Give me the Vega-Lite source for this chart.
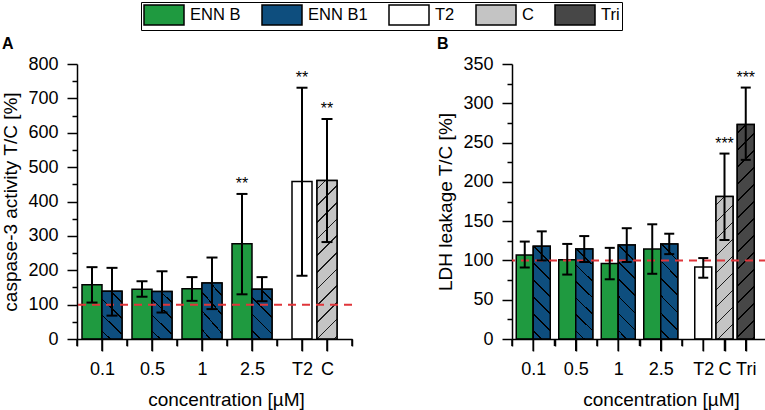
{
  "$schema": "https://vega.github.io/schema/vega-lite/v6.json",
  "background": "white",
  "padding": {"left": 1, "top": 1, "right": 2, "bottom": 2},
  "datasets": {
    "values": [
      {"panel": "A", "series": "ENN B", "conc": "0.1", "mean": 158, "lo": 106, "hi": 209, "sig": ""},
      {"panel": "A", "series": "ENN B1", "conc": "0.1", "mean": 139, "lo": 68, "hi": 207, "sig": ""},
      {"panel": "A", "series": "ENN B", "conc": "0.5", "mean": 145, "lo": 123, "hi": 168, "sig": ""},
      {"panel": "A", "series": "ENN B1", "conc": "0.5", "mean": 138, "lo": 77, "hi": 197, "sig": ""},
      {"panel": "A", "series": "ENN B", "conc": "1", "mean": 146, "lo": 111, "hi": 180, "sig": ""},
      {"panel": "A", "series": "ENN B1", "conc": "1", "mean": 163, "lo": 87, "hi": 237, "sig": ""},
      {"panel": "A", "series": "ENN B", "conc": "2.5", "mean": 277, "lo": 130, "hi": 422, "sig": "**"},
      {"panel": "A", "series": "ENN B1", "conc": "2.5", "mean": 145, "lo": 110, "hi": 180, "sig": ""},
      {"panel": "A", "series": "T2", "conc": "T2", "mean": 458, "lo": 184, "hi": 731, "sig": "**"},
      {"panel": "A", "series": "C", "conc": "C", "mean": 461, "lo": 282, "hi": 640, "sig": "**"},
      {"panel": "B", "series": "ENN B", "conc": "0.1", "mean": 107, "lo": 91, "hi": 124, "sig": ""},
      {"panel": "B", "series": "ENN B1", "conc": "0.1", "mean": 118, "lo": 100, "hi": 137, "sig": ""},
      {"panel": "B", "series": "ENN B", "conc": "0.5", "mean": 101, "lo": 82, "hi": 121, "sig": ""},
      {"panel": "B", "series": "ENN B1", "conc": "0.5", "mean": 114.5, "lo": 98, "hi": 131, "sig": ""},
      {"panel": "B", "series": "ENN B", "conc": "1", "mean": 96, "lo": 76, "hi": 116, "sig": ""},
      {"panel": "B", "series": "ENN B1", "conc": "1", "mean": 119.5, "lo": 98, "hi": 141, "sig": ""},
      {"panel": "B", "series": "ENN B", "conc": "2.5", "mean": 114.5, "lo": 83, "hi": 146, "sig": ""},
      {"panel": "B", "series": "ENN B1", "conc": "2.5", "mean": 121, "lo": 108, "hi": 134, "sig": ""},
      {"panel": "B", "series": "T2", "conc": "T2", "mean": 91.5, "lo": 78, "hi": 103, "sig": ""},
      {"panel": "B", "series": "C", "conc": "C", "mean": 181.5, "lo": 126, "hi": 236, "sig": "***"},
      {"panel": "B", "series": "Tri", "conc": "Tri", "mean": 273, "lo": 228, "hi": 320, "sig": "***"}
    ]
  },
  "spacing": 160,
  "bounds": "flush",
  "resolve": {"scale": {"x": "independent", "y": "independent"}},
  "hconcat": [
    {
      "width": 275,
      "height": 275,
      "title": {"text": "A", "anchor": "start", "frame": "bounds", "fontSize": 16, "fontWeight": "bold", "color": "black", "baseline": "alphabetic", "offset": 6, "dy": 16},
      "data": {"name": "values"},
      "transform": [{"filter": "datum.panel == 'A'"}],
      "resolve": {"axis": {"x": "independent", "y": "independent"}},
      "layer": [
        {
          "mark": {"type": "bar", "width": 20, "xOffset": {"expr": "datum.series == 'ENN B' ? -10 : datum.series == 'ENN B1' ? 10 : 0"}, "stroke": "black", "strokeWidth": 1.5, "opacity": 1},
          "encoding": {
            "x": {"field": "conc", "type": "nominal", "title": "concentration [µM]",
              "scale": {"type": "point", "padding": 0, "domain": ["_0", "0.1", "_2", "0.5", "_4", "1", "_6", "2.5", "_8", "T2", "C", "_11"]},
              "axis": {"values": ["0.1", "0.5", "1", "2.5", "T2", "C"], "orient": "bottom", "labelAngle": 0, "ticks": true, "tickSize": 12, "tickColor": "black", "tickOpacity": 1, "tickWidth": 1.5, "tickOffset": 0, "tickBand": "center", "zindex": 1, "labelPadding": 9, "titleX": 149, "titleY": 66, "titleBaseline": "alphabetic", "titleAlign": "center"}},
            "y": {"field": "mean", "type": "quantitative", "title": "caspase-3 activity T/C [%]", "stack": null,
              "scale": {"domain": [0, 800], "nice": false},
              "axis": {"values": [0, 100, 200, 300, 400, 500, 600, 700, 800], "orient": "left", "tickSize": 10, "labelPadding": 9, "titlePadding": 7}},
            "color": {"field": "series", "type": "nominal",
              "scale": {"domain": ["ENN B", "ENN B1", "T2", "C", "Tri"], "range": ["#1f9a40", "#0e4e7e", "#ffffff", "#c4c4c4", "#474747"]},
              "legend": {"title": null, "orient": "none", "legendX": 64, "legendY": -62, "direction": "horizontal", "strokeColor": "black", "padding": 2, "symbolType": "M-1,-1h4v2h-4z", "symbolSize": 400, "symbolStrokeColor": "black", "symbolStrokeWidth": 1.5, "symbolOpacity": 1, "labelFontSize": 16.5, "labelColor": "black", "labelOffset": 25, "columnPadding": 18}}
          }
        },
        {
          "transform": [{"filter": "datum.series == 'ENN B1' || datum.series == 'C'"}],
          "mark": {"type": "bar", "width": 20, "xOffset": {"expr": "datum.series == 'ENN B1' ? 10 : 0"}, "stroke": "black", "strokeWidth": 1.5, "opacity": 1},
          "encoding": {
            "x": {"field": "conc", "type": "nominal", "axis": null},
            "y": {"field": "mean", "type": "quantitative", "stack": null, "axis": null},
            "fill": {
              "condition": [
                {"test": "datum.series == 'C'", "value": {"gradient": "linear", "x1": 0, "y1": 0, "x2": 0.1399, "y2": 1.1085, "stops": [
                  {"offset": 0, "color": "#c4c4c4"},
                  {"offset": 0.0423, "color": "#c4c4c4"}, {"offset": 0.0423, "color": "#1a1a1a"}, {"offset": 0.0513, "color": "#1a1a1a"}, {"offset": 0.0513, "color": "#c4c4c4"},
                  {"offset": 0.1358, "color": "#c4c4c4"}, {"offset": 0.1358, "color": "#1a1a1a"}, {"offset": 0.1448, "color": "#1a1a1a"}, {"offset": 0.1448, "color": "#c4c4c4"},
                  {"offset": 0.2294, "color": "#c4c4c4"}, {"offset": 0.2294, "color": "#1a1a1a"}, {"offset": 0.2384, "color": "#1a1a1a"}, {"offset": 0.2384, "color": "#c4c4c4"},
                  {"offset": 0.3229, "color": "#c4c4c4"}, {"offset": 0.3229, "color": "#1a1a1a"}, {"offset": 0.3319, "color": "#1a1a1a"}, {"offset": 0.3319, "color": "#c4c4c4"},
                  {"offset": 0.4165, "color": "#c4c4c4"}, {"offset": 0.4165, "color": "#1a1a1a"}, {"offset": 0.4255, "color": "#1a1a1a"}, {"offset": 0.4255, "color": "#c4c4c4"},
                  {"offset": 0.5101, "color": "#c4c4c4"}, {"offset": 0.5101, "color": "#1a1a1a"}, {"offset": 0.5191, "color": "#1a1a1a"}, {"offset": 0.5191, "color": "#c4c4c4"},
                  {"offset": 0.6036, "color": "#c4c4c4"}, {"offset": 0.6036, "color": "#1a1a1a"}, {"offset": 0.6126, "color": "#1a1a1a"}, {"offset": 0.6126, "color": "#c4c4c4"},
                  {"offset": 0.6972, "color": "#c4c4c4"}, {"offset": 0.6972, "color": "#1a1a1a"}, {"offset": 0.7062, "color": "#1a1a1a"}, {"offset": 0.7062, "color": "#c4c4c4"},
                  {"offset": 0.7907, "color": "#c4c4c4"}, {"offset": 0.7907, "color": "#1a1a1a"}, {"offset": 0.7997, "color": "#1a1a1a"}, {"offset": 0.7997, "color": "#c4c4c4"},
                  {"offset": 0.8843, "color": "#c4c4c4"}, {"offset": 0.8843, "color": "#1a1a1a"}, {"offset": 0.8933, "color": "#1a1a1a"}, {"offset": 0.8933, "color": "#c4c4c4"},
                  {"offset": 0.9778, "color": "#c4c4c4"}, {"offset": 0.9778, "color": "#1a1a1a"}, {"offset": 0.9868, "color": "#1a1a1a"}, {"offset": 0.9868, "color": "#c4c4c4"},
                  {"offset": 1, "color": "#c4c4c4"}]}}
              ],
              "value": {"gradient": "linear", "x1": 0, "y1": 1, "x2": 0.4828, "y2": -0.2069, "stops": [
                {"offset": 0, "color": "#0e4e7e"},
                {"offset": 0.1079, "color": "#0e4e7e"}, {"offset": 0.1079, "color": "#000000"}, {"offset": 0.1307, "color": "#000000"}, {"offset": 0.1307, "color": "#0e4e7e"},
                {"offset": 0.3465, "color": "#0e4e7e"}, {"offset": 0.3465, "color": "#000000"}, {"offset": 0.3693, "color": "#000000"}, {"offset": 0.3693, "color": "#0e4e7e"},
                {"offset": 0.5850, "color": "#0e4e7e"}, {"offset": 0.5850, "color": "#000000"}, {"offset": 0.6078, "color": "#000000"}, {"offset": 0.6078, "color": "#0e4e7e"},
                {"offset": 0.8236, "color": "#0e4e7e"}, {"offset": 0.8236, "color": "#000000"}, {"offset": 0.8464, "color": "#000000"}, {"offset": 0.8464, "color": "#0e4e7e"},
                {"offset": 1, "color": "#0e4e7e"}]}
            }
          }
        },
        {
          "data": {"values": [{}]},
          "mark": {"type": "rule", "color": "#e0353a", "strokeDash": [8, 6], "strokeWidth": 2},
          "encoding": {"y": {"datum": 100, "type": "quantitative", "axis": null}}
        },
        {
          "data": {"values": [{"c": "0.1"}, {"c": "0.5"}, {"c": "1"}, {"c": "2.5"}, {"c": "T2"}, {"c": "C"}]},
          "mark": {"type": "rule", "color": "black", "strokeWidth": 1.5, "y2Offset": 12},
          "encoding": {
            "x": {"field": "c", "type": "nominal", "axis": null},
            "y": {"datum": 0, "type": "quantitative", "axis": null},
            "y2": {"datum": 0}
          }
        },
        {
          "data": {"values": [{"c": "_0"}, {"c": "_2"}, {"c": "_4"}, {"c": "_6"}, {"c": "_8"}, {"c": "_11"}]},
          "mark": {"type": "rule", "color": "black", "strokeWidth": 1.5, "y2Offset": 7},
          "encoding": {
            "x": {"field": "c", "type": "nominal", "axis": null},
            "y": {"datum": 0, "type": "quantitative", "axis": null},
            "y2": {"datum": 0}
          }
        },
        {
          "mark": {"type": "rule", "color": "black", "strokeWidth": 2, "xOffset": {"expr": "datum.series == 'ENN B' ? -10 : datum.series == 'ENN B1' ? 10 : 0"}},
          "encoding": {
            "x": {"field": "conc", "type": "nominal", "axis": {"values": ["_0", "_2", "_4", "_6", "_8", "_11"], "orient": "bottom", "labels": false, "domain": false, "ticks": true, "tickSize": 7, "tickColor": "black", "tickOpacity": 1, "tickWidth": 1.5, "tickOffset": 0, "tickBand": "center", "zindex": 1, "title": null}},
            "y": {"field": "lo", "type": "quantitative", "axis": {"values": [50, 150, 250, 350, 450, 550, 650, 750], "orient": "left", "labels": false, "domain": false, "tickSize": 5, "title": null}},
            "y2": {"field": "hi"}
          }
        },
        {
          "mark": {"type": "tick", "color": "black", "size": 11, "thickness": 2, "opacity": 1, "xOffset": {"expr": "datum.series == 'ENN B' ? -10 : datum.series == 'ENN B1' ? 10 : 0"}},
          "encoding": {
            "x": {"field": "conc", "type": "nominal", "axis": null},
            "y": {"field": "hi", "type": "quantitative", "axis": null}
          }
        },
        {
          "mark": {"type": "tick", "color": "black", "size": 11, "thickness": 2, "opacity": 1, "xOffset": {"expr": "datum.series == 'ENN B' ? -10 : datum.series == 'ENN B1' ? 10 : 0"}},
          "encoding": {
            "x": {"field": "conc", "type": "nominal", "axis": null},
            "y": {"field": "lo", "type": "quantitative", "axis": null}
          }
        },
        {
          "transform": [{"filter": "datum.sig != ''"}],
          "mark": {"type": "text", "color": "black", "fontSize": 16, "baseline": "alphabetic", "align": "center", "dy": -5, "xOffset": {"expr": "datum.series == 'ENN B' ? -10 : datum.series == 'ENN B1' ? 10 : 0"}},
          "encoding": {
            "x": {"field": "conc", "type": "nominal", "axis": null},
            "y": {"field": "hi", "type": "quantitative", "axis": null},
            "text": {"field": "sig"}
          }
        }
      ]
    },
    {
      "width": 255,
      "height": 275,
      "title": {"text": "B", "anchor": "start", "frame": "bounds", "fontSize": 16, "fontWeight": "bold", "color": "black", "baseline": "alphabetic", "offset": 6, "dy": 16},
      "data": {"name": "values"},
      "transform": [{"filter": "datum.panel == 'B'"}],
      "resolve": {"axis": {"x": "independent", "y": "independent"}},
      "layer": [
        {
          "mark": {"type": "bar", "width": 17, "xOffset": {"expr": "datum.series == 'ENN B' ? -8.5 : datum.series == 'ENN B1' ? 8.5 : 0"}, "stroke": "black", "strokeWidth": 1.5, "opacity": 1},
          "encoding": {
            "x": {"field": "conc", "type": "nominal", "title": "concentration [µM]",
              "scale": {"type": "point", "padding": 0, "domain": ["_0", "0.1", "_2", "0.5", "_4", "1", "_6", "2.5", "_8", "T2", "C", "Tri", "_12"]},
              "axis": {"values": ["0.1", "0.5", "1", "2.5", "T2", "C", "Tri"], "orient": "bottom", "labelAngle": 0, "ticks": true, "tickSize": 12, "tickColor": "black", "tickOpacity": 1, "tickWidth": 1.5, "tickOffset": 0, "tickBand": "center", "zindex": 1, "labelPadding": 9, "titleX": 149, "titleY": 66, "titleBaseline": "alphabetic", "titleAlign": "center"}},
            "y": {"field": "mean", "type": "quantitative", "title": "LDH leakage T/C [%]", "stack": null,
              "scale": {"domain": [0, 350], "nice": false},
              "axis": {"values": [0, 50, 100, 150, 200, 250, 300, 350], "orient": "left", "tickSize": 10, "labelPadding": 9, "titlePadding": 7}},
            "color": {"field": "series", "type": "nominal",
              "scale": {"domain": ["ENN B", "ENN B1", "T2", "C", "Tri"], "range": ["#1f9a40", "#0e4e7e", "#ffffff", "#c4c4c4", "#474747"]},
              "legend": {"title": null, "orient": "none", "legendX": 64, "legendY": -62, "direction": "horizontal", "strokeColor": "black", "padding": 2, "symbolType": "M-1,-1h4v2h-4z", "symbolSize": 400, "symbolStrokeColor": "black", "symbolStrokeWidth": 1.5, "symbolOpacity": 1, "labelFontSize": 16.5, "labelColor": "black", "labelOffset": 25, "columnPadding": 18}}
          }
        },
        {
          "transform": [{"filter": "datum.series == 'ENN B1' || datum.series == 'C' || datum.series == 'Tri'"}],
          "mark": {"type": "bar", "width": 17, "xOffset": {"expr": "datum.series == 'ENN B1' ? 8.5 : 0"}, "stroke": "black", "strokeWidth": 1.5, "opacity": 1},
          "encoding": {
            "x": {"field": "conc", "type": "nominal", "axis": null},
            "y": {"field": "mean", "type": "quantitative", "stack": null, "axis": null},
            "fill": {
              "condition": [
                {"test": "datum.series == 'C'", "value": {"gradient": "linear", "x1": 0, "y1": 0, "x2": 0.1316, "y2": 1.1036, "stops": [
                  {"offset": 0, "color": "#c4c4c4"},
                  {"offset": 0.0483, "color": "#c4c4c4"}, {"offset": 0.0483, "color": "#1a1a1a"}, {"offset": 0.0583, "color": "#1a1a1a"}, {"offset": 0.0583, "color": "#c4c4c4"},
                  {"offset": 0.1548, "color": "#c4c4c4"}, {"offset": 0.1548, "color": "#1a1a1a"}, {"offset": 0.1648, "color": "#1a1a1a"}, {"offset": 0.1648, "color": "#c4c4c4"},
                  {"offset": 0.2613, "color": "#c4c4c4"}, {"offset": 0.2613, "color": "#1a1a1a"}, {"offset": 0.2713, "color": "#1a1a1a"}, {"offset": 0.2713, "color": "#c4c4c4"},
                  {"offset": 0.3678, "color": "#c4c4c4"}, {"offset": 0.3678, "color": "#1a1a1a"}, {"offset": 0.3778, "color": "#1a1a1a"}, {"offset": 0.3778, "color": "#c4c4c4"},
                  {"offset": 0.4743, "color": "#c4c4c4"}, {"offset": 0.4743, "color": "#1a1a1a"}, {"offset": 0.4843, "color": "#1a1a1a"}, {"offset": 0.4843, "color": "#c4c4c4"},
                  {"offset": 0.5808, "color": "#c4c4c4"}, {"offset": 0.5808, "color": "#1a1a1a"}, {"offset": 0.5908, "color": "#1a1a1a"}, {"offset": 0.5908, "color": "#c4c4c4"},
                  {"offset": 0.6874, "color": "#c4c4c4"}, {"offset": 0.6874, "color": "#1a1a1a"}, {"offset": 0.6974, "color": "#1a1a1a"}, {"offset": 0.6974, "color": "#c4c4c4"},
                  {"offset": 0.7939, "color": "#c4c4c4"}, {"offset": 0.7939, "color": "#1a1a1a"}, {"offset": 0.8039, "color": "#1a1a1a"}, {"offset": 0.8039, "color": "#c4c4c4"},
                  {"offset": 0.9004, "color": "#c4c4c4"}, {"offset": 0.9004, "color": "#1a1a1a"}, {"offset": 0.9104, "color": "#1a1a1a"}, {"offset": 0.9104, "color": "#c4c4c4"},
                  {"offset": 1, "color": "#c4c4c4"}]}},
                {"test": "datum.series == 'Tri'", "value": {"gradient": "linear", "x1": 0, "y1": 0, "x2": 0.0850, "y2": 1.0725, "stops": [
                  {"offset": 0, "color": "#474747"},
                  {"offset": 0.0332, "color": "#474747"}, {"offset": 0.0332, "color": "#000000"}, {"offset": 0.0402, "color": "#000000"}, {"offset": 0.0402, "color": "#474747"},
                  {"offset": 0.1066, "color": "#474747"}, {"offset": 0.1066, "color": "#000000"}, {"offset": 0.1136, "color": "#000000"}, {"offset": 0.1136, "color": "#474747"},
                  {"offset": 0.1801, "color": "#474747"}, {"offset": 0.1801, "color": "#000000"}, {"offset": 0.1871, "color": "#000000"}, {"offset": 0.1871, "color": "#474747"},
                  {"offset": 0.2535, "color": "#474747"}, {"offset": 0.2535, "color": "#000000"}, {"offset": 0.2605, "color": "#000000"}, {"offset": 0.2605, "color": "#474747"},
                  {"offset": 0.3270, "color": "#474747"}, {"offset": 0.3270, "color": "#000000"}, {"offset": 0.3340, "color": "#000000"}, {"offset": 0.3340, "color": "#474747"},
                  {"offset": 0.4004, "color": "#474747"}, {"offset": 0.4004, "color": "#000000"}, {"offset": 0.4074, "color": "#000000"}, {"offset": 0.4074, "color": "#474747"},
                  {"offset": 0.4738, "color": "#474747"}, {"offset": 0.4738, "color": "#000000"}, {"offset": 0.4808, "color": "#000000"}, {"offset": 0.4808, "color": "#474747"},
                  {"offset": 0.5473, "color": "#474747"}, {"offset": 0.5473, "color": "#000000"}, {"offset": 0.5543, "color": "#000000"}, {"offset": 0.5543, "color": "#474747"},
                  {"offset": 0.6207, "color": "#474747"}, {"offset": 0.6207, "color": "#000000"}, {"offset": 0.6277, "color": "#000000"}, {"offset": 0.6277, "color": "#474747"},
                  {"offset": 0.6942, "color": "#474747"}, {"offset": 0.6942, "color": "#000000"}, {"offset": 0.7012, "color": "#000000"}, {"offset": 0.7012, "color": "#474747"},
                  {"offset": 0.7676, "color": "#474747"}, {"offset": 0.7676, "color": "#000000"}, {"offset": 0.7746, "color": "#000000"}, {"offset": 0.7746, "color": "#474747"},
                  {"offset": 0.8410, "color": "#474747"}, {"offset": 0.8410, "color": "#000000"}, {"offset": 0.8480, "color": "#000000"}, {"offset": 0.8480, "color": "#474747"},
                  {"offset": 0.9145, "color": "#474747"}, {"offset": 0.9145, "color": "#000000"}, {"offset": 0.9215, "color": "#000000"}, {"offset": 0.9215, "color": "#474747"},
                  {"offset": 0.9879, "color": "#474747"}, {"offset": 0.9879, "color": "#000000"}, {"offset": 0.9949, "color": "#000000"}, {"offset": 0.9949, "color": "#474747"},
                  {"offset": 1, "color": "#474747"}]}}
              ],
              "value": {"gradient": "linear", "x1": 0, "y1": 1, "x2": 0.2095, "y2": -0.1447, "stops": [
                {"offset": 0, "color": "#0e4e7e"},
                {"offset": 0.0700, "color": "#0e4e7e"}, {"offset": 0.0700, "color": "#000000"}, {"offset": 0.0846, "color": "#000000"}, {"offset": 0.0846, "color": "#0e4e7e"},
                {"offset": 0.2247, "color": "#0e4e7e"}, {"offset": 0.2247, "color": "#000000"}, {"offset": 0.2393, "color": "#000000"}, {"offset": 0.2393, "color": "#0e4e7e"},
                {"offset": 0.3794, "color": "#0e4e7e"}, {"offset": 0.3794, "color": "#000000"}, {"offset": 0.3940, "color": "#000000"}, {"offset": 0.3940, "color": "#0e4e7e"},
                {"offset": 0.5341, "color": "#0e4e7e"}, {"offset": 0.5341, "color": "#000000"}, {"offset": 0.5487, "color": "#000000"}, {"offset": 0.5487, "color": "#0e4e7e"},
                {"offset": 0.6888, "color": "#0e4e7e"}, {"offset": 0.6888, "color": "#000000"}, {"offset": 0.7034, "color": "#000000"}, {"offset": 0.7034, "color": "#0e4e7e"},
                {"offset": 0.8435, "color": "#0e4e7e"}, {"offset": 0.8435, "color": "#000000"}, {"offset": 0.8581, "color": "#000000"}, {"offset": 0.8581, "color": "#0e4e7e"},
                {"offset": 1, "color": "#0e4e7e"}]}
            }
          }
        },
        {
          "data": {"values": [{}]},
          "mark": {"type": "rule", "color": "#e0353a", "strokeDash": [8, 6], "strokeWidth": 2},
          "encoding": {"y": {"datum": 100, "type": "quantitative", "axis": null}}
        },
        {
          "data": {"values": [{"c": "0.1"}, {"c": "0.5"}, {"c": "1"}, {"c": "2.5"}, {"c": "T2"}, {"c": "C"}, {"c": "Tri"}]},
          "mark": {"type": "rule", "color": "black", "strokeWidth": 1.5, "y2Offset": 12},
          "encoding": {
            "x": {"field": "c", "type": "nominal", "axis": null},
            "y": {"datum": 0, "type": "quantitative", "axis": null},
            "y2": {"datum": 0}
          }
        },
        {
          "data": {"values": [{"c": "_0"}, {"c": "_2"}, {"c": "_4"}, {"c": "_6"}, {"c": "_8"}, {"c": "_12"}]},
          "mark": {"type": "rule", "color": "black", "strokeWidth": 1.5, "y2Offset": 7},
          "encoding": {
            "x": {"field": "c", "type": "nominal", "axis": null},
            "y": {"datum": 0, "type": "quantitative", "axis": null},
            "y2": {"datum": 0}
          }
        },
        {
          "mark": {"type": "rule", "color": "black", "strokeWidth": 2, "xOffset": {"expr": "datum.series == 'ENN B' ? -8.5 : datum.series == 'ENN B1' ? 8.5 : 0"}},
          "encoding": {
            "x": {"field": "conc", "type": "nominal", "axis": {"values": ["_0", "_2", "_4", "_6", "_8", "_12"], "orient": "bottom", "labels": false, "domain": false, "ticks": true, "tickSize": 7, "tickColor": "black", "tickOpacity": 1, "tickWidth": 1.5, "tickOffset": 0, "tickBand": "center", "zindex": 1, "title": null}},
            "y": {"field": "lo", "type": "quantitative", "axis": {"values": [25, 75, 125, 175, 225, 275, 325], "orient": "left", "labels": false, "domain": false, "tickSize": 5, "title": null}},
            "y2": {"field": "hi"}
          }
        },
        {
          "mark": {"type": "tick", "color": "black", "size": 10, "thickness": 2, "opacity": 1, "xOffset": {"expr": "datum.series == 'ENN B' ? -8.5 : datum.series == 'ENN B1' ? 8.5 : 0"}},
          "encoding": {
            "x": {"field": "conc", "type": "nominal", "axis": null},
            "y": {"field": "hi", "type": "quantitative", "axis": null}
          }
        },
        {
          "mark": {"type": "tick", "color": "black", "size": 10, "thickness": 2, "opacity": 1, "xOffset": {"expr": "datum.series == 'ENN B' ? -8.5 : datum.series == 'ENN B1' ? 8.5 : 0"}},
          "encoding": {
            "x": {"field": "conc", "type": "nominal", "axis": null},
            "y": {"field": "lo", "type": "quantitative", "axis": null}
          }
        },
        {
          "transform": [{"filter": "datum.sig != ''"}],
          "mark": {"type": "text", "color": "black", "fontSize": 16, "baseline": "alphabetic", "align": "center", "dy": -5, "xOffset": {"expr": "datum.series == 'ENN B' ? -8.5 : datum.series == 'ENN B1' ? 8.5 : 0"}},
          "encoding": {
            "x": {"field": "conc", "type": "nominal", "axis": null},
            "y": {"field": "hi", "type": "quantitative", "axis": null},
            "text": {"field": "sig"}
          }
        }
      ]
    }
  ],
  "config": {
    "font": "Liberation Sans",
    "view": {"stroke": null},
    "axis": {"domainColor": "black", "domainWidth": 1.5, "tickColor": "black", "tickWidth": 1.5, "labelColor": "black", "labelFontSize": 18, "titleColor": "black", "titleFontSize": 19, "titleFontWeight": "normal", "grid": false, "ticks": true},
    "axisX": {"ticks": true},
    "axisBand": {"ticks": true},
    "axisPoint": {"ticks": true},
    "legend": {"labelFont": "Liberation Sans"}
  }
}
